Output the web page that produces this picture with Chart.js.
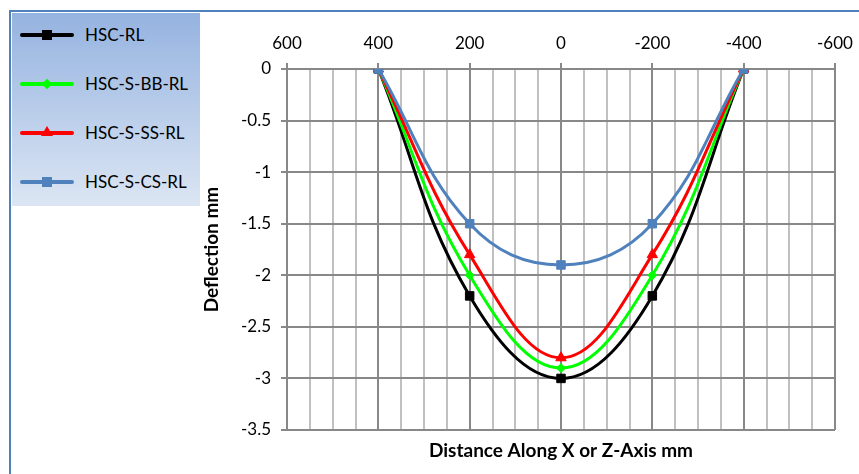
<!DOCTYPE html>
<html>
<head>
<meta charset="utf-8">
<script src="https://cdn.jsdelivr.net/npm/chart.js@4"></script>
<style>
  body { margin: 0; background: #fff; width: 859px; height: 474px; overflow: hidden; position: relative; font-family: Lato, "Open Sans", sans-serif; }
  #frame { position: absolute; left: 9px; top: 10px; width: 900px; height: 500px; border: 2.5px solid #4f81bd; }
  #legend { position: absolute; left: 12px; top: 13px; width: 188px; height: 193px;
            background: linear-gradient(#95b3e0, #dce6f3); }
  .item { position: absolute; left: 8px; height: 20px; }
  .line { position: absolute; left: 0; top: 8px; width: 54px; height: 4px; border-radius: 2px; }
  .mark { position: absolute; left: 22px; top: 5px; width: 10px; height: 10px; }
  .label { position: absolute; left: 65px; top: 0; font-size: 17px; line-height: 20px; color: #000; white-space: nowrap; }
  #wrap { position: absolute; left: 200px; top: 13px; width: 659px; height: 461px; }
</style>
</head>
<body>
<div id="frame"></div>
<div id="legend"></div>
<div id="wrap"><canvas id="myChart"></canvas></div>
<script>
let distance = [400, 200, 0, -200, -400]
let seriesNames = ['HSC-RL', 'HSC-S-BB-RL', 'HSC-S-SS-RL', 'HSC-S-CS-RL']
let hscRL = [0, -2.2, -3.0, -2.2, 0]
let hscBB = [0, -2.0, -2.9, -2.0, 0]
let hscSS = [0, -1.8, -2.8, -1.8, 0]
let hscCS = [0, -1.5, -1.9, -1.5, 0]
let xTicks = [600, 400, 200, 0, -200, -400, -600]
let yTicks = [0, -0.5, -1, -1.5, -2, -2.5, -3, -3.5]

let colors = ['#000000', '#00ff00', '#ff0000', '#4f81bd']
let markers = ['rect', 'rectRot', 'triangle', 'rect']
let values = [hscRL, hscBB, hscSS, hscCS]

let toPoints = (arr) => arr.map((v, i) => ({ x: distance[i], y: v }))

let datasets = seriesNames.map((name, i) => ({
  label: name,
  data: toPoints(values[i]),
  borderColor: colors[i],
  backgroundColor: colors[i],
  borderWidth: 3,
  pointStyle: markers[i],
  pointRadius: markers[i] == 'rectRot' ? 4.5 : 6,
  pointBorderWidth: 1,
  tension: 0.4,
  order: 3 - i
}))

// html legend
let legend = document.getElementById('legend')
seriesNames.forEach((name, i) => {
  let item = document.createElement('div')
  item.className = 'item'
  item.style.top = (12 + i * 49) + 'px'
  let mark = ''
  if (markers[i] == 'rect') mark = `<div class="mark" style="background:${colors[i]}"></div>`
  if (markers[i] == 'rectRot') mark = `<div class="mark" style="background:${colors[i]};transform:rotate(45deg) scale(0.75)"></div>`
  if (markers[i] == 'triangle') mark = `<div class="mark" style="width:0;height:0;left:21px;top:3px;border-left:6px solid transparent;border-right:6px solid transparent;border-bottom:10px solid ${colors[i]}"></div>`
  item.innerHTML = `<div class="line" style="background:${colors[i]}"></div>${mark}<div class="label">${name}</div>`
  legend.appendChild(item)
})

let tickFont = { family: 'Lato', size: 17 }
let titleFont = { family: 'Lato', size: 19, weight: 'bold' }

let ctx = document.getElementById('myChart').getContext('2d')
let chart = new Chart(ctx, {
  type: 'line',
  data: { datasets: datasets },
  options: {
    responsive: true,
    maintainAspectRatio: false,
    animation: false,
    layout: { padding: { right: 24, top: 0, left: 0, bottom: 0 } },
    plugins: { legend: { display: false }, tooltip: { enabled: false } },
    scales: {
      x: {
        type: 'linear',
        position: 'top',
        reverse: true,
        min: -600,
        max: 600,
        afterBuildTicks: (axis) => {
          let t = []
          for (let v = -600; v <= 600; v += 50) t.push({ value: v })
          axis.ticks = t
        },
        afterFit: (axis) => { axis.height = 56 },
        ticks: {
          color: '#000',
          font: tickFont,
          padding: 9,
          maxRotation: 0,
          autoSkip: false,
          callback: (v) => xTicks.includes(v) ? String(v) : ''
        },
        grid: {
          color: (c) => xTicks.includes(c.tick.value) ? '#888888' : '#c0c0c0',
          lineWidth: 2,
          tickLength: 6,
          tickColor: (c) => xTicks.includes(c.tick.value) ? '#888888' : 'rgba(0,0,0,0)'
        },
        border: { display: false }
      },
      x2: {
        type: 'linear',
        position: 'bottom',
        min: -600,
        max: 600,
        afterFit: (axis) => { axis.height = 44 },
        ticks: { display: false },
        grid: { display: false },
        border: { display: false },
        title: { display: true, text: 'Distance Along X or Z-Axis mm', color: '#000', font: titleFont, padding: { top: 0, bottom: 12 } }
      },
      y: {
        min: -3.5,
        max: 0,
        afterBuildTicks: (axis) => { axis.ticks = yTicks.map(v => ({ value: v })) },
        afterFit: (axis) => { axis.width = 87 },
        ticks: { color: '#000', font: tickFont, padding: 10, callback: (v) => String(v) },
        grid: { color: '#888888', lineWidth: 2, tickLength: 6, tickColor: '#888888' },
        border: { display: false },
        title: { display: true, text: 'Deflection mm', color: '#000', font: titleFont, padding: 0 }
      }
    }
  }
})
</script>
</body>
</html>
